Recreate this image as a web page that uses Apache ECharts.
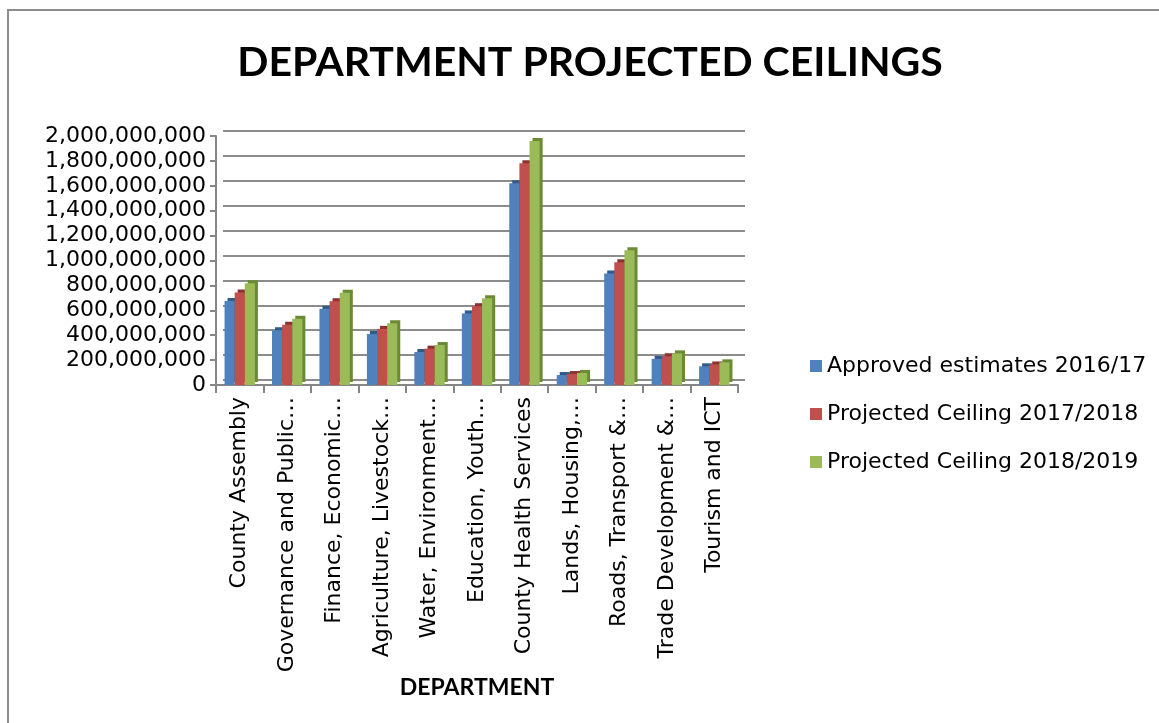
<!DOCTYPE html>
<html>
<head>
  <meta charset="utf-8">
  <style>
    html, body { margin: 0; padding: 0; background: #fff; }
  </style>
</head>
<body>
  <div id="main" style="width: 1159px; height: 723px"></div>
  <script src="https://cdn.jsdelivr.net/npm/echarts@6/dist/echarts.min.js"></script>
  <script>
    var departments = ['County Assembly', 'Governance and Public\u2026', 'Finance, Economic\u2026',
      'Agriculture, Livestock\u2026', 'Water, Environment\u2026', 'Education, Youth\u2026',
      'County Health Services', 'Lands, Housing,\u2026', 'Roads, Transport &\u2026',
      'Trade Development &\u2026', 'Tourism and ICT'];
    var approved1617 = [675e6, 440e6, 612e6, 410e6, 265e6, 575e6, 1620e6, 80e6, 895e6, 210e6, 150e6];
    var ceiling1718 = [742e6, 484e6, 673e6, 451e6, 292e6, 633e6, 1782e6, 88e6, 985e6, 231e6, 165e6];
    var ceiling1819 = [817e6, 532e6, 740e6, 496e6, 321e6, 696e6, 1960e6, 97e6, 1083e6, 254e6, 182e6];
    var seriesNames = ['Approved estimates 2016/17', 'Projected Ceiling 2017/2018', 'Projected Ceiling 2018/2019'];

    var font = '"DejaVu Sans", sans-serif';
    var boldFont = 'Lato, sans-serif';
    var chart = echarts.init(document.getElementById('main'));

    function bar(name, data, color, side) {
      return {
        name: name,
        type: 'bar',
        data: data,
        xAxisIndex: 1,
        yAxisIndex: 1,
        barGap: '0%',
        barCategoryGap: '36%',
        itemStyle: {
          color: color,
          shadowColor: side,
          shadowOffsetX: 3,
          shadowOffsetY: -3,
          shadowBlur: 0
        }
      };
    }

    chart.setOption({
      animation: false,
      graphic: [{
        type: 'polyline',
        shape: { points: [[8, 723], [8, 10], [1159, 10]] },
        style: { stroke: '#8c8c8c', lineWidth: 2, fill: null }
      }],
      title: {
        text: 'DEPARTMENT PROJECTED CEILINGS',
        left: 585,
        textAlign: 'center',
        top: 37,
        textStyle: { fontFamily: boldFont, fontWeight: 'bold', fontSize: 41, color: '#000' }
      },
      legend: {
        orient: 'vertical',
        left: 805,
        top: 350,
        itemWidth: 12,
        itemHeight: 12,
        itemGap: 26,
        icon: 'rect',
        textStyle: { fontFamily: font, fontSize: 22, color: '#000' },
        data: seriesNames
      },
      grid: [
        // back wall of the 3D chart, only its gridlines
        { left: 223, right: 414, top: 131, bottom: 343 },
        // front plane: axes and bars
        { left: 216, right: 421, top: 136, bottom: 338 }
      ],
      xAxis: [{
        gridIndex: 0,
        type: 'category',
        data: departments,
        show: false
      }, {
        gridIndex: 1,
        type: 'category',
        data: departments,
        name: 'DEPARTMENT',
        nameLocation: 'middle',
        nameGap: 282,
        nameTextStyle: { fontFamily: boldFont, fontWeight: 'bold', fontSize: 23, color: '#000' },
        axisLine: { lineStyle: { color: '#868686', width: 2 } },
        axisTick: { show: true, length: 8, lineStyle: { color: '#868686', width: 2 } },
        axisLabel: { rotate: 90, interval: 0, fontFamily: font, fontSize: 22, color: '#000', margin: 12 }
      }],
      yAxis: [{
        gridIndex: 0,
        type: 'value',
        min: 0,
        max: 2000000000,
        interval: 200000000,
        axisLine: { show: false },
        axisTick: { show: false },
        axisLabel: { show: false },
        splitLine: { lineStyle: { color: '#8c8c8c', width: 2 } }
      }, {
        gridIndex: 1,
        type: 'value',
        min: 0,
        max: 2000000000,
        interval: 200000000,
        axisLine: { show: true, lineStyle: { color: '#868686', width: 2 } },
        axisTick: { show: true, length: 6, lineStyle: { color: '#868686', width: 2 } },
        splitLine: { show: false },
        axisLabel: {
          fontFamily: font, fontSize: 22, color: '#000', margin: 10,
          formatter: function (v) { return v.toLocaleString('en-US'); }
        }
      }],
      series: [
        bar(seriesNames[0], approved1617, '#4F81BD', '#2f5a8c'),
        bar(seriesNames[1], ceiling1718, '#C0504D', '#8c3330'),
        bar(seriesNames[2], ceiling1819, '#9BBB59', '#6b8a35')
      ]
    });
  </script>
</body>
</html>
